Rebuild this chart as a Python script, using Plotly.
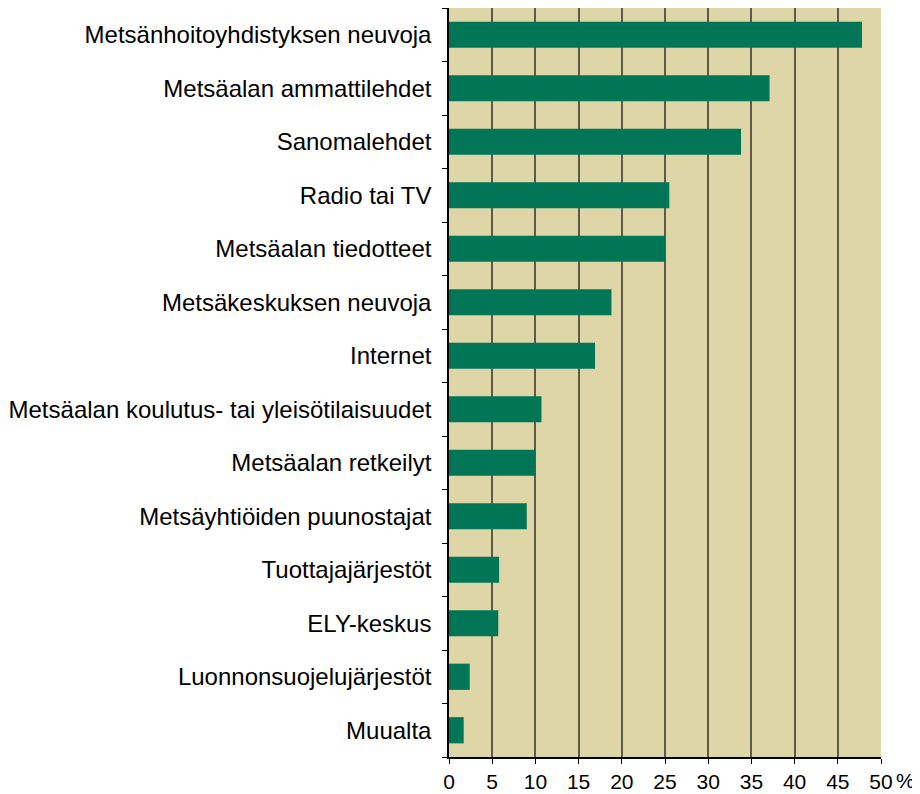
import plotly.graph_objects as go

categories = [
    "Metsänhoitoyhdistyksen neuvoja",
    "Metsäalan ammattilehdet",
    "Sanomalehdet",
    "Radio tai TV",
    "Metsäalan tiedotteet",
    "Metsäkeskuksen neuvoja",
    "Internet",
    "Metsäalan koulutus- tai yleisötilaisuudet",
    "Metsäalan retkeilyt",
    "Metsäyhtiöiden puunostajat",
    "Tuottajajärjestöt",
    "ELY-keskus",
    "Luonnonsuojelujärjestöt",
    "Muualta",
]
values = [47.8, 37.1, 33.8, 25.5, 25.0, 18.8, 16.9, 10.7, 10.0, 9.0, 5.8, 5.7, 2.4, 1.7]
x_ticks = [0, 5, 10, 15, 20, 25, 30, 35, 40, 45, 50]
x_tick_labels = [str(v) for v in x_ticks]
unit_label = "%"

fig = go.Figure(go.Bar(
    y=categories,
    x=values,
    orientation="h",
    marker=dict(color="#007656", line=dict(width=0)),
    width=0.49,
))

# The page body has an 8px margin, so the figure is shifted to compensate.
fig.update_layout(
    width=912, height=786,
    margin=dict(l=441, r=39, t=0, b=37, pad=0),
    plot_bgcolor="#dfd6a8",
    paper_bgcolor="white",
    font=dict(family="Liberation Sans, Arial, sans-serif", size=24, color="black"),
    showlegend=False,
)
fig.update_xaxes(
    range=[0, 50],
    tickvals=x_ticks,
    ticktext=x_tick_labels,
    showgrid=True,
    gridcolor="#5f5a48",
    gridwidth=1.5,
    zeroline=False,
    showline=True,
    linecolor="black",
    linewidth=1.5,
    ticks="outside",
    ticklen=5,
    tickcolor="black",
    tickfont=dict(size=21),
    ticklabelstandoff=0,
    automargin=False,
)
fig.update_yaxes(
    categoryorder="array",
    categoryarray=categories[::-1],
    autorange=False,
    range=[-0.5, len(categories) - 0.5],
    showline=True,
    linecolor="black",
    linewidth=1.5,
    ticks="outside",
    tickson="boundaries",
    ticklen=5,
    tickcolor="black",
    showgrid=False,
    tickfont=dict(size=24),
    ticklabelstandoff=11,
    automargin=False,
)
fig.add_annotation(
    x=50, y=0, xref="x", yref="paper",
    text=unit_label, showarrow=False,
    xanchor="left", yanchor="top",
    xshift=13, yshift=-10,
    font=dict(size=21),
)

fig.write_html("out.html")
